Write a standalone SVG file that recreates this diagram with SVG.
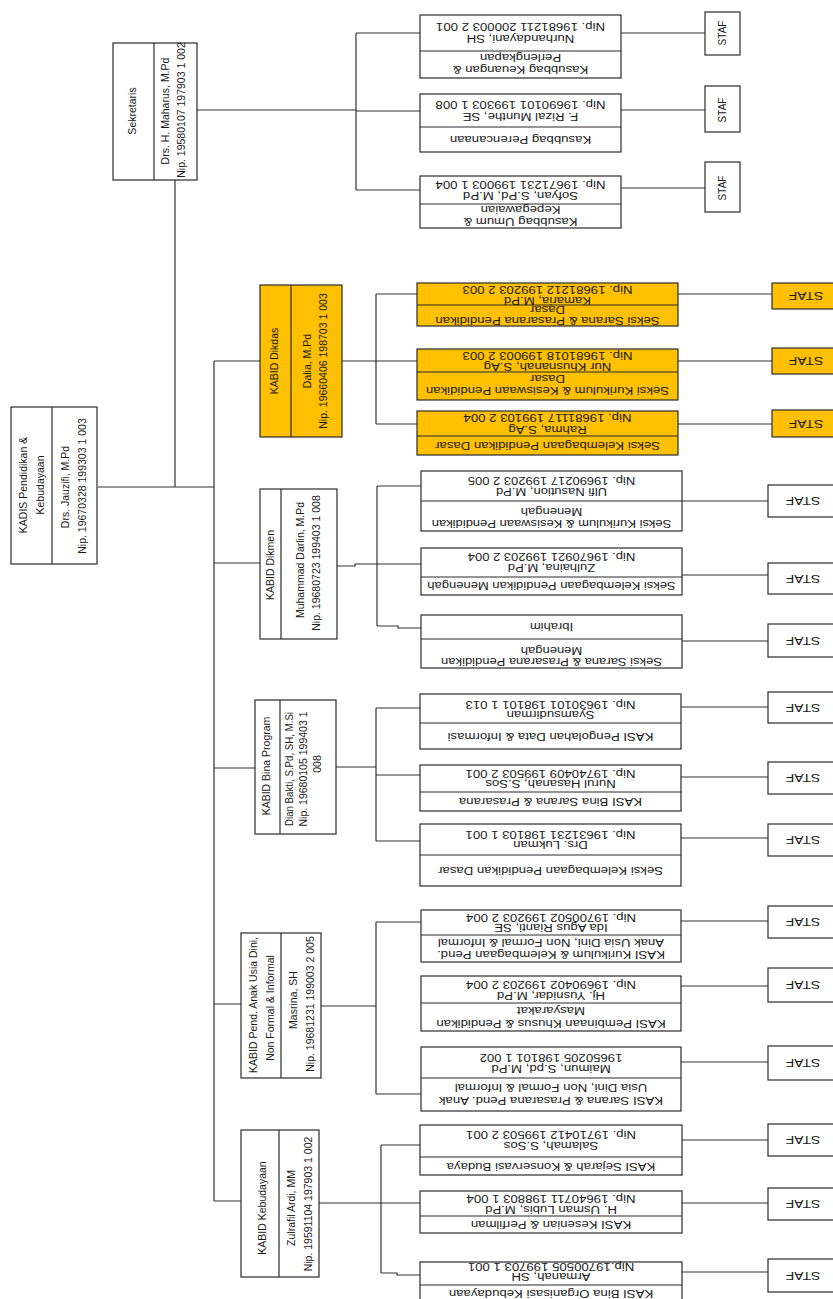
<svg xmlns="http://www.w3.org/2000/svg" width="833" height="1299" viewBox="0 0 833 1299">
<style>
.t{font-family:"Liberation Sans",Arial,sans-serif;font-size:10px;fill:#1a1a1a;text-anchor:middle}
.v{font-size:10.5px}
.b{fill:#fff;stroke:#2b2b2b;stroke-width:1.2}
.yb{fill:#FFC000;stroke:#2b2b2b;stroke-width:1.2}
.d{stroke:#2b2b2b;stroke-width:1.2}
#connectors path{fill:none;stroke:#333;stroke-width:1.2}
</style>
<rect width="833" height="1299" fill="#fff"/>
<g id="connectors">
<path d="M98 487H214M175 180V487M214 361V1201M214 361H260M214 563H260M214 768H255M214 1004H241M214 1201H241"/>
<path d="M197 110H356M356 33V190M356 33H420M356 111H420M356 190H420M621 33H705M621 110H705M621 188H705"/>
<path d="M342 361H376M376 294V424M376 294H417M376 361H417M376 424H417M678 294H772M678 361H772M678 424H772"/>
<path d="M337 566H355V564H377M377 486V626M377 486H421M377 564H421M377 626H398V628H421M682 501H768M682 575H768M682 641H768"/>
<path d="M336 767H376M376 708V841M376 708H420M376 775H420M376 841H420M681 707H768M681 777H768M681 838H768"/>
<path d="M321 1006H376M376 922V1094M376 922H421M376 1094H421M681 921H768M681 986H768M681 1062H768"/>
<path d="M319 1203H381M381 1145V1273M381 1145H420M381 1203H420M381 1273H397V1275H420M682 1140H768M682 1203H768M682 1272H768"/>
</g>
<g id="kadis">
<rect class="b" x="11" y="407" width="86" height="157"/><line class="d" x1="52" y1="407" x2="52" y2="564"/>
<text class="t v" transform="translate(23,485) rotate(-90)" y="3.5">KADIS Pendidikan &amp;</text>
<text class="t v" transform="translate(40,485) rotate(-90)" y="3.5">Kebudayaan</text>
<text class="t v" transform="translate(65,487) rotate(-90)" y="3.5">Drs. Jauzifi, M.Pd</text>
<text class="t v" transform="translate(82,486) rotate(-90)" y="3.5">Nip. 19670328 199303 1 003</text>
</g>
<g id="sekretaris">
<rect class="b" x="113" y="43" width="84" height="137"/><line class="d" x1="154" y1="43" x2="154" y2="180"/>
<text class="t v" transform="translate(132,111) rotate(-90)" y="3.5">Sekretaris</text>
<text class="t v" transform="translate(165,111) rotate(-90)" y="3.5">Drs. H. Maharus, M.Pd</text>
<text class="t v" transform="translate(181,110) rotate(-90)" y="3.5">Nip. 19580107 197903 1 002</text>
</g>
<g id="kasubbag-keuangan">
<rect class="b" x="420" y="15" width="201" height="63"/><line class="d" x1="420" y1="51" x2="621" y2="51"/>
<text class="t" transform="translate(520.5,27) rotate(180) scale(1.32,1)" y="3.5">Nip. 19681211 200003 2 001</text>
<text class="t" transform="translate(520.5,39) rotate(180) scale(1.32,1)" y="3.5">Nurhandayani, SH</text>
<text class="t" transform="translate(520.5,57.5) rotate(180) scale(1.32,1)" y="3.5">Perlengkapan</text>
<text class="t" transform="translate(520.5,69.5) rotate(180) scale(1.32,1)" y="3.5">Kasubbag Keuangan &amp;</text>
</g>
<g id="kasubbag-perencanaan">
<rect class="b" x="420" y="94" width="201" height="58"/><line class="d" x1="420" y1="127" x2="621" y2="127"/>
<text class="t" transform="translate(520.5,105) rotate(180) scale(1.32,1)" y="3.5">Nip. 19690101 199303 1 008</text>
<text class="t" transform="translate(520.5,117) rotate(180) scale(1.32,1)" y="3.5">F. Rizal Munthe, SE</text>
<text class="t" transform="translate(520.5,139.5) rotate(180) scale(1.32,1)" y="3.5">Kasubbag Perencanaan</text>
</g>
<g id="kasubbag-umum">
<rect class="b" x="420" y="176" width="201" height="52"/><line class="d" x1="420" y1="204" x2="621" y2="204"/>
<text class="t" transform="translate(520.5,184.5) rotate(180) scale(1.32,1)" y="3.5">Nip. 19671231 199003 1 004</text>
<text class="t" transform="translate(520.5,196) rotate(180) scale(1.32,1)" y="3.5">Sofyan, S.Pd, M.Pd</text>
<text class="t" transform="translate(520.5,210) rotate(180) scale(1.32,1)" y="3.5">Kepegawaian</text>
<text class="t" transform="translate(520.5,221.5) rotate(180) scale(1.32,1)" y="3.5">Kasubbag Umum &amp;</text>
</g>
<g id="staf-top-1"><rect class="b" x="705" y="12" width="35" height="43"/><text class="t" transform="translate(722.5,33) rotate(-90)" y="3.5">STAF</text></g>
<g id="staf-top-2"><rect class="b" x="705" y="86" width="35" height="46"/><text class="t" transform="translate(722.5,110) rotate(-90)" y="3.5">STAF</text></g>
<g id="staf-top-3"><rect class="b" x="705" y="162" width="35" height="50"/><text class="t" transform="translate(722.5,188) rotate(-90)" y="3.5">STAF</text></g>
<g id="kabid-dikdas">
<rect class="yb" x="260" y="285" width="82" height="152"/><line class="d" x1="291" y1="285" x2="291" y2="437"/>
<text class="t v" transform="translate(274,361) rotate(-90)" y="3.5">KABID Dikdas</text>
<text class="t v" transform="translate(307,361) rotate(-90)" y="3.5">Dalia, M.Pd</text>
<text class="t v" transform="translate(323,361) rotate(-90)" y="3.5">Nip. 19660406 198703 1 003</text>
</g>
<g id="seksi-sarana-dasar">
<rect class="yb" x="417" y="283" width="261" height="43"/><line class="d" x1="417" y1="305" x2="678" y2="305"/>
<text class="t" transform="translate(547.5,290) rotate(180) scale(1.32,1)" y="3.5">Nip. 19681212 199203 2 003</text>
<text class="t" transform="translate(547.5,300.5) rotate(180) scale(1.32,1)" y="3.5">Kamaria, M.Pd</text>
<text class="t" transform="translate(547.5,310) rotate(180) scale(1.32,1)" y="3.5">Dasar</text>
<text class="t" transform="translate(547.5,321) rotate(180) scale(1.32,1)" y="3.5">Seksi Sarana &amp; Prasarana Pendidikan</text>
</g>
<g id="seksi-kurikulum-dasar">
<rect class="yb" x="417" y="349" width="261" height="51"/><line class="d" x1="417" y1="372" x2="678" y2="372"/>
<text class="t" transform="translate(547.5,355.5) rotate(180) scale(1.32,1)" y="3.5">Nip. 19681018 199003 2 003</text>
<text class="t" transform="translate(547.5,366.5) rotate(180) scale(1.32,1)" y="3.5">Nur Khusnanah, S.Ag</text>
<text class="t" transform="translate(547.5,379) rotate(180) scale(1.32,1)" y="3.5">Dasar</text>
<text class="t" transform="translate(547.5,391) rotate(180) scale(1.32,1)" y="3.5">Seksi Kurikulum &amp; Kesiswaan Pendidikan</text>
</g>
<g id="seksi-kelembagaan-dasar">
<rect class="yb" x="417" y="411" width="261" height="44"/><line class="d" x1="417" y1="436" x2="678" y2="436"/>
<text class="t" transform="translate(547.5,417.5) rotate(180) scale(1.32,1)" y="3.5">Nip. 19681117 199103 2 004</text>
<text class="t" transform="translate(547.5,429.5) rotate(180) scale(1.32,1)" y="3.5">Rahma, S.Ag</text>
<text class="t" transform="translate(547.5,445.5) rotate(180) scale(1.32,1)" y="3.5">Seksi Kelembagaan Pendidikan Dasar</text>
</g>
<g id="staf-dikdas-1"><rect class="yb" x="772" y="283" width="70" height="26"/><text class="t" transform="translate(806,296) rotate(180) scale(1.4,1)" y="3.5">STAF</text></g>
<g id="staf-dikdas-2"><rect class="yb" x="772" y="348" width="70" height="26"/><text class="t" transform="translate(806,361) rotate(180) scale(1.4,1)" y="3.5">STAF</text></g>
<g id="staf-dikdas-3"><rect class="yb" x="772" y="410" width="70" height="27"/><text class="t" transform="translate(806,423.5) rotate(180) scale(1.4,1)" y="3.5">STAF</text></g>
<g id="kabid-dikmen">
<rect class="b" x="260" y="489" width="77" height="150"/><line class="d" x1="281" y1="489" x2="281" y2="639"/>
<text class="t v" transform="translate(270,565) rotate(-90)" y="3.5">KABID Dikmen</text>
<text class="t v" transform="translate(300,560) rotate(-90)" y="3.5">Muhammad Darlin, M.Pd</text>
<text class="t v" transform="translate(316,563) rotate(-90)" y="3.5">Nip. 19680723 199403 1 008</text>
</g>
<g id="seksi-kurikulum-menengah">
<rect class="b" x="421" y="471" width="261" height="60"/><line class="d" x1="421" y1="501" x2="682" y2="501"/>
<text class="t" transform="translate(551.5,481) rotate(180) scale(1.3,1)" y="3.5">Nip. 19690217 199203 2 005</text>
<text class="t" transform="translate(551.5,492) rotate(180) scale(1.3,1)" y="3.5">Ulfi Nasution, M.Pd</text>
<text class="t" transform="translate(551.5,511.5) rotate(180) scale(1.3,1)" y="3.5">Menengah</text>
<text class="t" transform="translate(551.5,524) rotate(180) scale(1.3,1)" y="3.5">Seksi Kurikulum &amp; Kesiswaan Pendidikan</text>
</g>
<g id="seksi-kelembagaan-menengah">
<rect class="b" x="421" y="548" width="261" height="47"/><line class="d" x1="421" y1="577" x2="682" y2="577"/>
<text class="t" transform="translate(551.5,557) rotate(180) scale(1.3,1)" y="3.5">Nip. 19670921 199203 2 004</text>
<text class="t" transform="translate(551.5,567.5) rotate(180) scale(1.3,1)" y="3.5">Zulhaina, M.Pd</text>
<text class="t" transform="translate(551.5,586) rotate(180) scale(1.3,1)" y="3.5">Seksi Kelembagaan Pendidikan Menengah</text>
</g>
<g id="seksi-sarana-menengah">
<rect class="b" x="421" y="615" width="261" height="53"/><line class="d" x1="421" y1="639" x2="682" y2="639"/>
<text class="t" transform="translate(551.5,627) rotate(180) scale(1.3,1)" y="3.5">Ibrahim</text>
<text class="t" transform="translate(551.5,650.5) rotate(180) scale(1.3,1)" y="3.5">Menengah</text>
<text class="t" transform="translate(551.5,661.5) rotate(180) scale(1.3,1)" y="3.5">Seksi Sarana &amp; Prasarana Pendidikan</text>
</g>
<g id="staf-dikmen-1"><rect class="b" x="768" y="485" width="70" height="32"/><text class="t" transform="translate(803,501) rotate(180) scale(1.4,1)" y="3.5">STAF</text></g>
<g id="staf-dikmen-2"><rect class="b" x="768" y="563" width="70" height="31"/><text class="t" transform="translate(803,578.5) rotate(180) scale(1.4,1)" y="3.5">STAF</text></g>
<g id="staf-dikmen-3"><rect class="b" x="768" y="624" width="70" height="33"/><text class="t" transform="translate(803,640.5) rotate(180) scale(1.4,1)" y="3.5">STAF</text></g>
<g id="kabid-bina-program">
<rect class="b" x="255" y="700" width="81" height="134"/><line class="d" x1="280" y1="700" x2="280" y2="834"/>
<text class="t v" transform="translate(266,766) rotate(-90)" y="3.5">KABID Bina Program</text>
<text class="t v" transform="translate(289,769) rotate(-90)" y="3.5" textLength="114" lengthAdjust="spacingAndGlyphs">Dian Bakti, S.Pd, SH, M.Si</text>
<text class="t v" transform="translate(303,769) rotate(-90)" y="3.5">Nip. 19680105 199403 1</text>
<text class="t v" transform="translate(317,764) rotate(-90)" y="3.5">008</text>
</g>
<g id="kasi-pengolahan-data">
<rect class="b" x="420" y="694" width="261" height="55"/><line class="d" x1="420" y1="723" x2="681" y2="723"/>
<text class="t" transform="translate(550.5,704.5) rotate(180) scale(1.32,1)" y="3.5">Nip. 19630101 198101 1 013</text>
<text class="t" transform="translate(550.5,715) rotate(180) scale(1.32,1)" y="3.5">Syamsudirman</text>
<text class="t" transform="translate(550.5,736.5) rotate(180) scale(1.32,1)" y="3.5">KASI Pengolahan Data &amp; Informasi</text>
</g>
<g id="kasi-bina-sarana">
<rect class="b" x="420" y="765" width="261" height="46"/><line class="d" x1="420" y1="792" x2="681" y2="792"/>
<text class="t" transform="translate(550.5,773.5) rotate(180) scale(1.32,1)" y="3.5">Nip. 19740409 199503 2 001</text>
<text class="t" transform="translate(550.5,784) rotate(180) scale(1.32,1)" y="3.5">Nurul Hasanah, S.Sos</text>
<text class="t" transform="translate(550.5,801.5) rotate(180) scale(1.32,1)" y="3.5">KASI Bina Sarana &amp; Prasarana</text>
</g>
<g id="seksi-kelembagaan-bp">
<rect class="b" x="420" y="824" width="261" height="62"/><line class="d" x1="420" y1="855" x2="681" y2="855"/>
<text class="t" transform="translate(550.5,834.5) rotate(180) scale(1.32,1)" y="3.5">Nip. 19631231 198103 1 001</text>
<text class="t" transform="translate(550.5,845) rotate(180) scale(1.32,1)" y="3.5">Drs. Lukman</text>
<text class="t" transform="translate(550.5,870.5) rotate(180) scale(1.32,1)" y="3.5">Seksi Kelembagaan Pendidikan Dasar</text>
</g>
<g id="staf-bp-1"><rect class="b" x="768" y="692" width="70" height="31"/><text class="t" transform="translate(803,707.5) rotate(180) scale(1.4,1)" y="3.5">STAF</text></g>
<g id="staf-bp-2"><rect class="b" x="768" y="762" width="70" height="32"/><text class="t" transform="translate(803,778) rotate(180) scale(1.4,1)" y="3.5">STAF</text></g>
<g id="staf-bp-3"><rect class="b" x="768" y="824" width="70" height="32"/><text class="t" transform="translate(803,840) rotate(180) scale(1.4,1)" y="3.5">STAF</text></g>
<g id="kabid-pnfi">
<rect class="b" x="241" y="933" width="80" height="145"/><line class="d" x1="281" y1="933" x2="281" y2="1078"/>
<text class="t v" transform="translate(253,1005) rotate(-90)" y="3.5">KABID Pend. Anak Usia Dini,</text>
<text class="t v" transform="translate(270,1008) rotate(-90)" y="3.5">Non Formal &amp; Informal</text>
<text class="t v" transform="translate(293,1000) rotate(-90)" y="3.5">Masrina, SH</text>
<text class="t v" transform="translate(310,1004) rotate(-90)" y="3.5">Nip. 19681231 199003 2 005</text>
</g>
<g id="kasi-kurikulum-paud">
<rect class="b" x="421" y="910" width="260" height="52"/><line class="d" x1="421" y1="935" x2="681" y2="935"/>
<text class="t" transform="translate(551,918) rotate(180) scale(1.32,1)" y="3.5">Nip. 19700502 199203 2 004</text>
<text class="t" transform="translate(551,928) rotate(180) scale(1.32,1)" y="3.5">Ida Agus Rianti, SE</text>
<text class="t" transform="translate(551,942.5) rotate(180) scale(1.32,1)" y="3.5">Anak Usia Dini, Non Formal &amp; Informal</text>
<text class="t" transform="translate(551,954.5) rotate(180) scale(1.32,1)" y="3.5">KASI Kurikulum &amp; Kelembagaan Pend.</text>
</g>
<g id="kasi-pembinaan-khusus">
<rect class="b" x="421" y="976" width="260" height="55"/><line class="d" x1="421" y1="1003" x2="681" y2="1003"/>
<text class="t" transform="translate(551,985) rotate(180) scale(1.32,1)" y="3.5">Nip. 19690402 199203 2 004</text>
<text class="t" transform="translate(551,996) rotate(180) scale(1.32,1)" y="3.5">Hj. Yusnidar, M.Pd</text>
<text class="t" transform="translate(551,1011) rotate(180) scale(1.32,1)" y="3.5">Masyarakat</text>
<text class="t" transform="translate(551,1024) rotate(180) scale(1.32,1)" y="3.5">KASI Pembinaan Khusus &amp; Pendidikan</text>
</g>
<g id="kasi-sarana-paud">
<rect class="b" x="421" y="1047" width="260" height="64"/><line class="d" x1="421" y1="1078" x2="681" y2="1078"/>
<text class="t" transform="translate(551,1058) rotate(180) scale(1.32,1)" y="3.5">19650205 198101 1 002</text>
<text class="t" transform="translate(551,1069) rotate(180) scale(1.32,1)" y="3.5">Maimun, S.pd, M.Pd</text>
<text class="t" transform="translate(551,1087.5) rotate(180) scale(1.32,1)" y="3.5">Usia Dini, Non Formal &amp; Informal</text>
<text class="t" transform="translate(551,1101) rotate(180) scale(1.32,1)" y="3.5">KASI Sarana &amp; Prasarana Pend. Anak</text>
</g>
<g id="staf-pnfi-1"><rect class="b" x="768" y="906" width="70" height="32"/><text class="t" transform="translate(803,922) rotate(180) scale(1.4,1)" y="3.5">STAF</text></g>
<g id="staf-pnfi-2"><rect class="b" x="768" y="968" width="70" height="34"/><text class="t" transform="translate(803,985) rotate(180) scale(1.4,1)" y="3.5">STAF</text></g>
<g id="staf-pnfi-3"><rect class="b" x="768" y="1046" width="70" height="34"/><text class="t" transform="translate(803,1063) rotate(180) scale(1.4,1)" y="3.5">STAF</text></g>
<g id="kabid-kebudayaan">
<rect class="b" x="241" y="1130" width="78" height="147"/><line class="d" x1="279" y1="1130" x2="279" y2="1277"/>
<text class="t v" transform="translate(262,1208) rotate(-90)" y="3.5">KABID Kebudayaan</text>
<text class="t v" transform="translate(291,1208) rotate(-90)" y="3.5">Zulrafil Ardi, MM</text>
<text class="t v" transform="translate(308,1204) rotate(-90)" y="3.5">Nip. 19591104 197903 1 002</text>
</g>
<g id="kasi-sejarah">
<rect class="b" x="420" y="1125" width="262" height="50"/><line class="d" x1="420" y1="1157" x2="682" y2="1157"/>
<text class="t" transform="translate(551,1135) rotate(180) scale(1.32,1)" y="3.5">Nip. 19710412 199503 2 001</text>
<text class="t" transform="translate(551,1146) rotate(180) scale(1.32,1)" y="3.5">Salamah, S.Sos</text>
<text class="t" transform="translate(551,1166.5) rotate(180) scale(1.32,1)" y="3.5">KASI Sejarah &amp; Konservasi Budaya</text>
</g>
<g id="kasi-kesenian">
<rect class="b" x="420" y="1191" width="262" height="42"/><line class="d" x1="420" y1="1216" x2="682" y2="1216"/>
<text class="t" transform="translate(551,1198.5) rotate(180) scale(1.32,1)" y="3.5">Nip. 19640711 198803 1 004</text>
<text class="t" transform="translate(551,1209.5) rotate(180) scale(1.32,1)" y="3.5">H. Usman Lubis, M.Pd</text>
<text class="t" transform="translate(551,1225) rotate(180) scale(1.32,1)" y="3.5">KASI Kesenian &amp; Perfilman</text>
</g>
<g id="kasi-bina-organisasi">
<rect class="b" x="420" y="1262" width="262" height="45"/><line class="d" x1="420" y1="1285" x2="682" y2="1285"/>
<text class="t" transform="translate(551,1267) rotate(180) scale(1.32,1)" y="3.5">Nip.19700505 199703 1 001</text>
<text class="t" transform="translate(551,1277) rotate(180) scale(1.32,1)" y="3.5">Armanah, SH</text>
<text class="t" transform="translate(551,1293.5) rotate(180) scale(1.32,1)" y="3.5">KASI Bina Organisasi Kebudayaan</text>
</g>
<g id="staf-keb-1"><rect class="b" x="768" y="1124" width="70" height="32"/><text class="t" transform="translate(803,1140) rotate(180) scale(1.4,1)" y="3.5">STAF</text></g>
<g id="staf-keb-2"><rect class="b" x="768" y="1188" width="70" height="32"/><text class="t" transform="translate(803,1204) rotate(180) scale(1.4,1)" y="3.5">STAF</text></g>
<g id="staf-keb-3"><rect class="b" x="768" y="1259" width="70" height="33"/><text class="t" transform="translate(803,1275.5) rotate(180) scale(1.4,1)" y="3.5">STAF</text></g>
</svg>
